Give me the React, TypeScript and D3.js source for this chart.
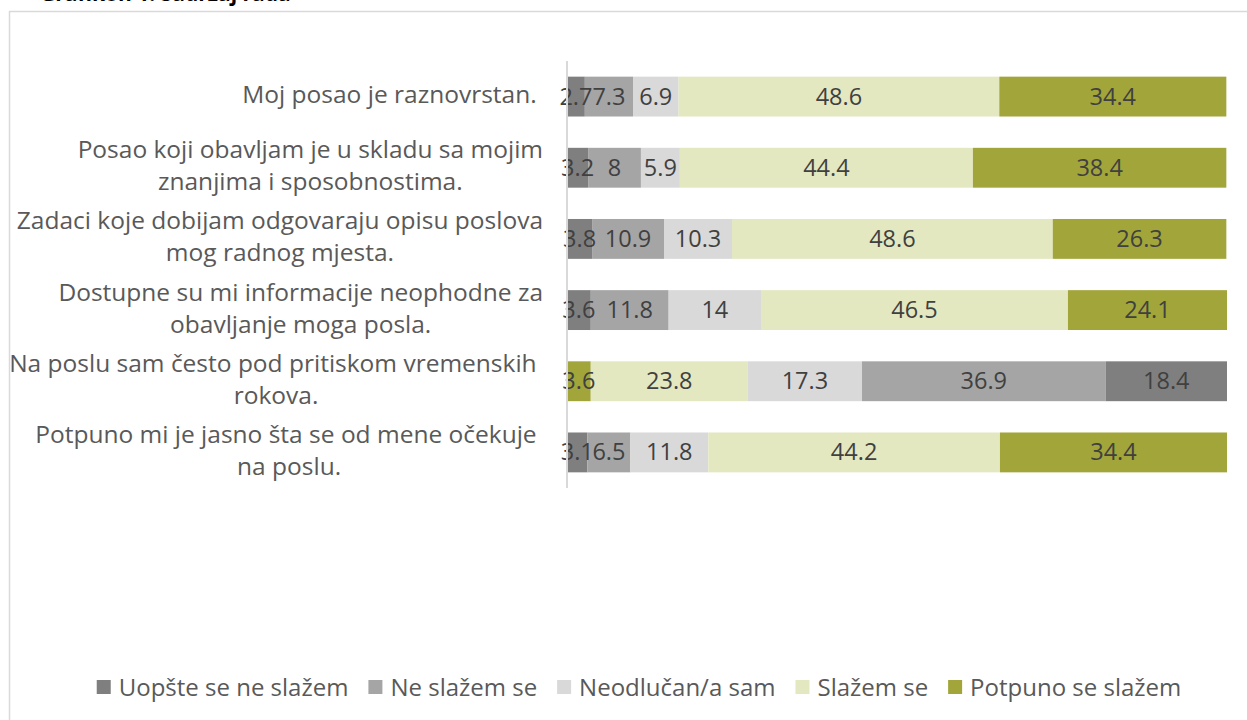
import React from "react";
import * as d3 from "d3";

const title = "Grafikon 1: Sadržaj rada";
const categoryLines: string[][] = [
  ["Moj posao je raznovrstan. "],
  ["Posao koji obavljam je u skladu sa mojim", "znanjima i sposobnostima."],
  ["Zadaci koje dobijam odgovaraju opisu poslova", "mog radnog mjesta."],
  ["Dostupne su mi informacije neophodne za", "obavljanje moga posla."],
  ["Na poslu sam često pod pritiskom vremenskih ", "rokova."],
  ["Potpuno mi je jasno šta se od mene očekuje ", "na poslu."],
];
const seriesNames = [
  "Uopšte se ne slažem",
  "Ne slažem se",
  "Neodlučan/a sam",
  "Slažem se",
  "Potpuno se slažem",
];
const uopste = [2.7, 3.2, 3.8, 3.6, 3.6, 3.1];
const neSlazem = [7.3, 8, 10.9, 11.8, 23.8, 6.5];
const neodlucan = [6.9, 5.9, 10.3, 14, 17.3, 11.8];
const slazem = [48.6, 44.4, 48.6, 46.5, 36.9, 44.2];
const potpuno = [34.4, 38.4, 26.3, 24.1, 18.4, 34.4];
const seriesColors = ["#7F7F7F", "#A5A5A5", "#D9D9D9", "#E4E8C0", "#A2A63A"];
// row whose segment colours run in reverse order (reverse-coded item)
const reversedColorRows = [4];

const FONT = "'Open Sans', 'DejaVu Sans', sans-serif";

let ctx: CanvasRenderingContext2D | null = null;
function measure(text: string, size: number, weight = "normal") {
  if (!ctx) ctx = document.createElement("canvas").getContext("2d");
  ctx!.font = `${weight} ${size}px 'Open Sans'`;
  return ctx!.measureText(text).width;
}

export default function App() {
  const W = 1247;
  const H = 720;
  const plotLeft = 567;
  const plotRight = 1227;
  const plotTop = 61;
  const plotBottom = 488;

  const allSeries = [uopste, neSlazem, neodlucan, slazem, potpuno];
  const keys = seriesNames;
  const rows = categoryLines.map((_, i) => {
    const o: Record<string, number> = {};
    keys.forEach((k, j) => (o[k] = allSeries[j][i]));
    return o;
  });
  const stacked = d3.stack<Record<string, number>>().keys(keys)(rows);

  const x = d3.scaleLinear().domain([0, 100]).range([plotLeft, plotRight]);
  const y = d3
    .scaleBand<number>()
    .domain(d3.range(categoryLines.length))
    .range([plotTop, plotBottom])
    .paddingInner(0.44)
    .paddingOuter(0.22);

  const labelSize = 24.5;
  const labelRight = 543;
  const lineGap = 32;
  const dataSize = 23.5;

  // legend layout
  const legSize = 24;
  const sq = 14;
  const sqGap = 8;
  const itemGap = 20;
  const widths = seriesNames.map((n) => sq + sqGap + measure(n, legSize));
  const total = d3.sum(widths) + itemGap * (seriesNames.length - 1);
  const legCenter = 639;
  const legY = 687;
  let cursor = legCenter - total / 2;
  const legendItems = seriesNames.map((n, i) => {
    const x0 = cursor;
    cursor += widths[i] + itemGap;
    return { n, x0, color: seriesColors[i] };
  });

  return (
    <svg
      width={W}
      height={H}
      style={{ position: "absolute", left: 0, top: 0, background: "#fff" }}
      fontFamily={FONT}
    >
      <rect x={0} y={0} width={W} height={H} fill="#fff" />
      <text x={40} y={1} fontSize={21} fontWeight="bold" fill="#000">
        {title}
      </text>
      <rect
        x={9.5}
        y={11.5}
        width={W + 20}
        height={H + 20}
        fill="none"
        stroke="#D9D9D9"
        strokeWidth={1.5}
      />

      {/* bars */}
      {stacked.map((s, si) =>
        s.map((d, ri) => {
          const rev = reversedColorRows.includes(ri);
          const color = rev
            ? seriesColors[seriesColors.length - 1 - si]
            : seriesColors[si];
          return (
            <rect
              key={`b${si}-${ri}`}
              x={x(d[0])}
              y={y(ri)}
              width={x(d[1]) - x(d[0])}
              height={y.bandwidth()}
              fill={color}
            />
          );
        })
      )}

      {/* data labels */}
      {stacked.map((s, si) =>
        s.map((d, ri) => (
          <text
            key={`l${si}-${ri}`}
            x={(x(d[0]) + x(d[1])) / 2}
            y={y(ri)! + y.bandwidth() / 2 + 8}
            textAnchor="middle"
            fontSize={dataSize}
            fill="#404040"
          >
            {String(allSeries[si][ri])}
          </text>
        ))
      )}

      {/* axis line */}
      <line
        x1={plotLeft}
        x2={plotLeft}
        y1={plotTop}
        y2={plotBottom}
        stroke="#D9D9D9"
        strokeWidth={2}
      />

      {/* category labels */}
      {categoryLines.map((lines, ri) => {
        const ws = lines.map((l) => measure(l, labelSize));
        const block = Math.max(...ws);
        const center = labelRight - block / 2;
        const cy = y(ri)! + y.bandwidth() / 2;
        return lines.map((l, li) => (
          <text
            key={`c${ri}-${li}`}
            x={center - ws[li] / 2}
            y={cy + 6.5 + (li - (lines.length - 1) / 2) * lineGap}
            fontSize={labelSize}
            fill="#595959"
          >
            {l.trimEnd()}
          </text>
        ));
      })}

      {/* legend */}
      {legendItems.map((it, i) => (
        <g key={`g${i}`}>
          <rect
            x={it.x0}
            y={legY - sq / 2}
            width={sq}
            height={sq}
            fill={it.color}
          />
          <text
            x={it.x0 + sq + sqGap}
            y={legY + 8.5}
            fontSize={legSize}
            fill="#595959"
          >
            {it.n}
          </text>
        </g>
      ))}
    </svg>
  );
}
